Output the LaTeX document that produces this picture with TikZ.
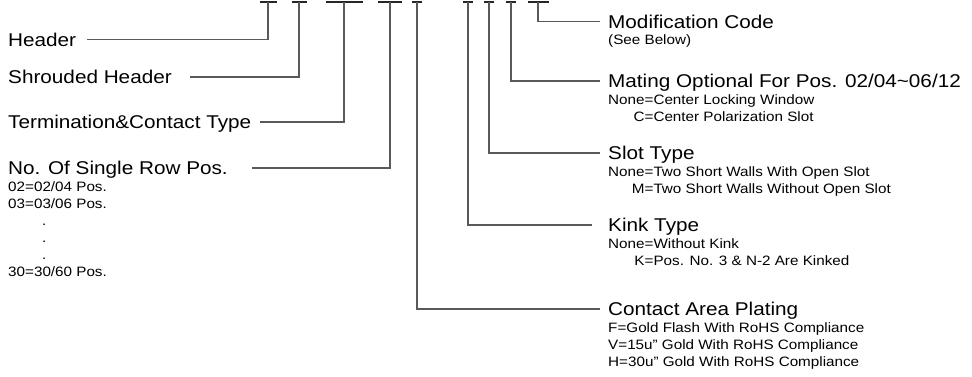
\documentclass[tikz,border=0pt]{standalone}
\usepackage{fontspec}
\setmainfont{Liberation Sans}[FakeStretch=1.12]
\usetikzlibrary{positioning}

\begin{document}
\begin{tikzpicture}[
  x=1pt, y=-1pt,
  title/.style={anchor=west, inner xsep=8pt, inner ysep=0pt,
                text height=13.3pt, text depth=0pt,
                font=\fontsize{18.5}{22}\selectfont},
  desc/.style={inner xsep=8pt, inner ysep=0pt, align=left,
               font=\fontsize{13.6}{17}\selectfont},
  bar/.style={draw=black!85, line width=1.2pt},
  lead/.style={draw=black!65, line width=1.2pt}
]
\useasboundingbox (0,0) rectangle (972,376);

% slots of the part number
\foreach \x/\w/\n in {268/17/1, 299/15/2, 344/37/3, 390/24/4, 417/10/5,
                      468/10/6, 489/10/7, 511/10/8, 538/21/9}{
  \draw[bar] (\x-\w/2,2) -- (\x+\w/2,2);
  \coordinate (t\n) at (\x,2);
}

% left labels
\node[title] (hdr) at (0,39.5) {Header};
\node[title] (shd) at (0,77) {Shrouded Header};
\node[title] (term) at (0,122) {Termination\&Contact Type};
\node[title] (pos) at (0,168) {No. Of Single Row Pos.};
\node[desc, below right=7pt and 0pt of pos.south west] (posd)
  {02=02/04 Pos.\\03=03/06 Pos.\\\hspace*{2.5em}.\\\hspace*{2.5em}.\\\hspace*{2.5em}.\\30=30/60 Pos.};

% right labels
\node[title] (mod) at (600,21.5) {Modification Code};
\node[desc, below right=6pt and 0pt of mod.south west] (modd) {(See Below)};
\node[title] (mat) at (600,81) {Mating Optional For Pos. 02/04\textasciitilde06/12};
\node[desc, below right=7pt and 0pt of mat.south west] (matd)
  {None=Center Locking Window\\\hphantom{None}\llap{C}=Center Polarization Slot};
\node[title] (slot) at (600,153) {Slot Type};
\node[desc, below right=7pt and 0pt of slot.south west] (slotd)
  {None=Two Short Walls With Open Slot\\\hphantom{None}\llap{M}=Two Short Walls Without Open Slot};
\node[title] (kink) at (600,225) {Kink Type};
\node[desc, below right=7pt and 0pt of kink.south west] (kinkd)
  {None=Without Kink\\\hphantom{None}\llap{K}=Pos. No. 3 \& N-2 Are Kinked};
\node[title] (cap) at (600,309) {Contact Area Plating};
\node[desc, below right=7pt and 0pt of cap.south west] (capd)
  {F=Gold Flash With RoHS Compliance\\V=15u" Gold With RoHS Compliance\\H=30u" Gold With RoHS Compliance};

% leaders
\draw[lead] (t1) |- ([xshift=3pt]hdr.east);
\draw[lead] (t2) |- ([xshift=10pt]shd.east);
\draw[lead] (t3) |- ([xshift=1pt]term.east);
\draw[lead] (t4) |- ([xshift=16pt]pos.east);
\draw[lead] (t5) |- (cap);
\draw[lead] (t6) |- ([xshift=-8pt]kink.west);
\draw[lead] (t7) |- (slot);
\draw[lead] (t8) |- (mat);
\draw[lead] (t9) |- (mod);
\end{tikzpicture}
\end{document}
